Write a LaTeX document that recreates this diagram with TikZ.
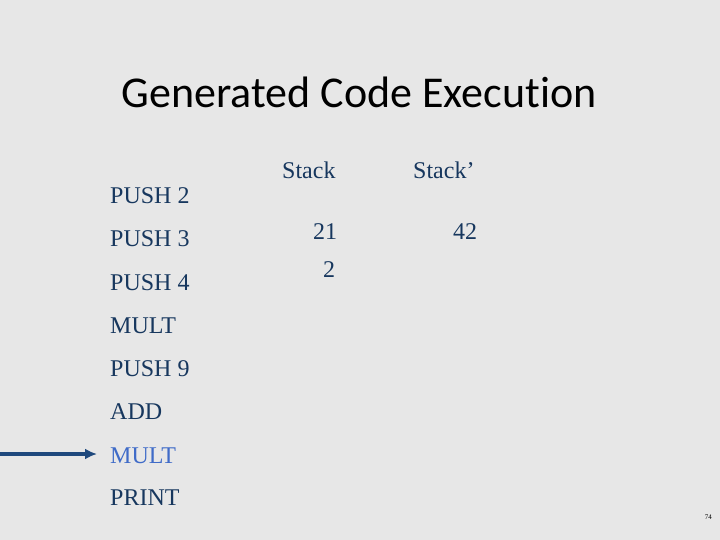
\documentclass[tikz,border=0pt]{standalone}
\usepackage{fontspec}
\usetikzlibrary{arrows.meta}
\setmainfont{Liberation Serif}
\newfontfamily\titlefont[Ligatures=NoCommon]{Carlito}
\definecolor{bg}{HTML}{E7E7E7}
\definecolor{navy}{HTML}{17375E}
\definecolor{hl}{HTML}{3F6BC8}
\definecolor{arrowc}{HTML}{1F497D}
\begin{document}
\begin{tikzpicture}[x=1pt,y=-1pt,
  txt/.style={anchor=base west,inner sep=0pt,font=\fontsize{24}{28}\selectfont,text=navy},
  hltxt/.style={txt,text=hl}]
\fill[bg] (0,0) rectangle (720,540);
\useasboundingbox (0,0) rectangle (720,540);
\node[anchor=base,inner sep=0pt,font=\titlefont\fontsize{44}{52}\selectfont] (title) at (359,108) {Generated Code Execution};
\node[txt] (p2) at (110,204) {PUSH 2};
\node[txt] (p3) at (110,247) {PUSH 3};
\node[txt] (p4) at (110,290) {PUSH 4};
\node[txt] (m1) at (110,333) {MULT};
\node[txt] (p9) at (110,376) {PUSH 9};
\node[txt] (add) at (110,419) {ADD};
\node[hltxt] (m2) at (110,463) {MULT};
\node[txt] (pr) at (110,505) {PRINT};
\node[txt] (st) at (282,179) {Stack};
\node[txt] (st2) at (413,179) {Stack’};
\node[txt] (v21) at (313,240) {21};
\node[txt] (v42) at (453,240) {42};
\node[txt] (v2) at (323,277) {2};
\coordinate (astart) at (0,454);
\coordinate (aend) at (97,454);
\draw[arrowc,line width=3.5pt,-{Latex[length=12pt,width=11pt]}] (astart) -- (aend);
\node[anchor=base east,inner sep=0pt,font=\fontsize{7}{8}\selectfont] (pg) at (712,519) {74};
\end{tikzpicture}
\end{document}
